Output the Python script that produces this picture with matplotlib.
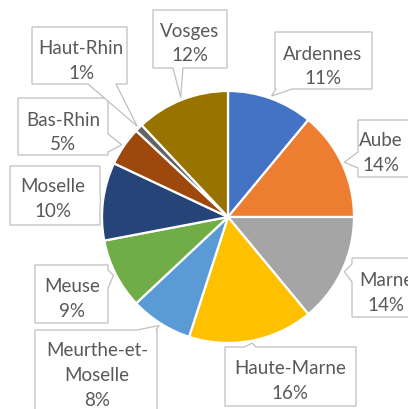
import matplotlib
matplotlib.use("Agg")
import matplotlib.pyplot as plt
import numpy as np
from matplotlib.patches import Polygon

# ---- data ----
departments = ["Ardennes", "Aube", "Marne", "Haute-Marne", "Meurthe-et-Moselle",
               "Meuse", "Moselle", "Bas-Rhin", "Haut-Rhin", "Vosges"]
label_texts = ["Ardennes", "Aube", "Marne", "Haute-Marne", "Meurthe-et-\nMoselle",
               "Meuse", "Moselle", "Bas-Rhin", "Haut-Rhin", "Vosges"]
shares = [11, 14, 14, 16, 8, 9, 10, 5, 1, 12]
colors = ["#4472C4", "#ED7D31", "#A5A5A5", "#FFC000", "#5B9BD5",
          "#70AD47", "#264478", "#9E480E", "#636363", "#997300"]

# ---- layout (pixel coords, y from top) ----
W, H = 408, 409
CX, CY, R = 228, 217, 126
# box: (x0, x1, y0, y1), notch side, notch base (a, b), text center (x, y)
layout = {
    "Ardennes":           ((275, 372, 32, 89), "bottom", (276, 292), (323, 61)),
    "Aube":               ((358, 420, 120, 177), "left", (152, 168), (381, 148)),
    "Marne":              ((352, 425, 258, 317), "left", (264, 282), (386, 288)),
    "Haute-Marne":        ((225, 356, 347, 406), "top", (244, 256), (290, 376)),
    "Meurthe-et-Moselle": ((35, 157, 330, 440), "top", (137, 156), (97, 370)),
    "Meuse":              ((35, 108, 265, 323), "right", (270, 288), (72, 294)),
    "Moselle":            ((10, 100, 166, 225), "right", (193, 208), (53, 194)),
    "Bas-Rhin":           ((18, 108, 98, 155), "right", (134, 152), (63, 127)),
    "Haut-Rhin":          ((32, 127, 27, 84), "bottom", (88, 116), (81, 56)),
    "Vosges":             ((153, 227, 10, 68), "bottom", (173, 183), (190, 38)),
}

def Y(py):
    return H - py

fig = plt.figure(figsize=(W / 100, H / 100), dpi=100)
ax = fig.add_axes([0, 0, 1, 1])

wedges, _ = ax.pie(shares, colors=colors, startangle=90, counterclock=False,
                   center=(CX, Y(CY)), radius=R, frame=True,
                   wedgeprops=dict(edgecolor="white", linewidth=1.6))

ax.set_xlim(0, W)
ax.set_ylim(0, H)
ax.set_aspect("equal")
ax.axis("off")

for w, name, txt, pct in zip(wedges, departments, label_texts, shares):
    (x0, x1, y0, y1), side, (a, b), (tx, ty) = layout[name]
    th = np.deg2rad((w.theta1 + w.theta2) / 2)
    tipx = CX + 1.02 * R * np.cos(th)
    tipy = CY - 1.02 * R * np.sin(th)
    tip = (tipx, tipy)
    pts = [(x0, y0)]
    if side == "top":
        pts += [(a, y0), tip, (b, y0)]
    pts.append((x1, y0))
    if side == "right":
        pts += [(x1, a), tip, (x1, b)]
    pts.append((x1, y1))
    if side == "bottom":
        pts += [(b, y1), tip, (a, y1)]
    pts.append((x0, y1))
    if side == "left":
        pts += [(x0, b), tip, (x0, a)]
    poly = Polygon([(px, Y(py)) for px, py in pts], closed=True,
                   facecolor="white", edgecolor="#BFBFBF", linewidth=0.9, zorder=3)
    ax.add_patch(poly)
    ax.text(tx, Y(ty), f"{txt}\n{pct}%", ha="center", va="center_baseline",
            fontsize=13.5, family=["Lato", "DejaVu Sans"], color="#595959",
            linespacing=1.55, zorder=4)

fig.savefig("out.png", dpi=100)
